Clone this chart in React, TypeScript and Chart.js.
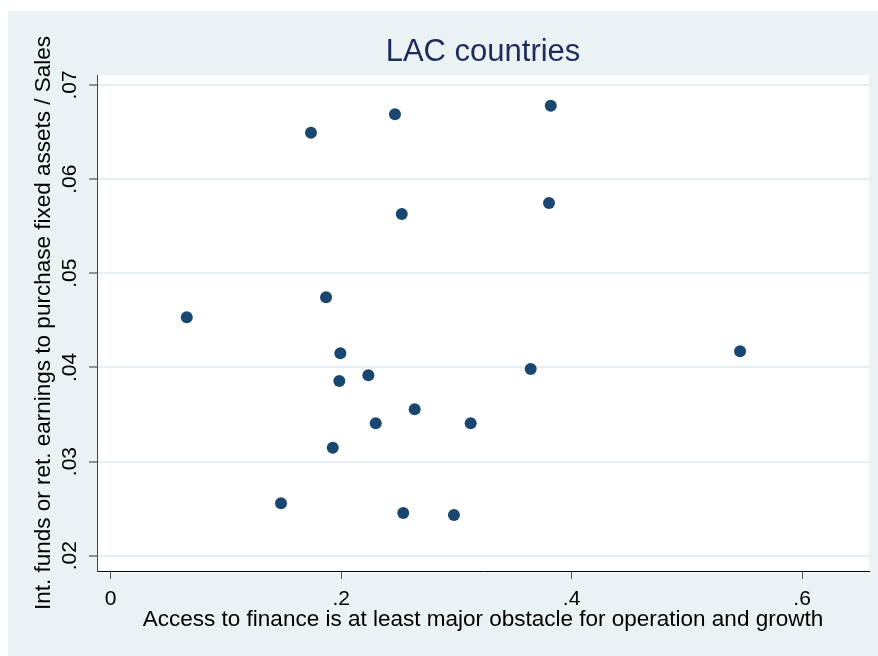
import React, { useEffect, useRef } from "react";
import { Chart, registerables } from "chart.js";

Chart.register(...registerables);

const CHART_TITLE = "LAC countries";
const X_TITLE = "Access to finance is at least major obstacle for operation and growth";
const Y_TITLE = "Int. funds or ret. earnings to purchase fixed assets / Sales";

// x: share of firms reporting access to finance as at least a major obstacle
const accessToFinance = [
  0.1738, 0.2467, 0.3819, 0.2526, 0.3804, 0.1869, 0.066, 0.1993, 0.5462, 0.1984,
  0.2236, 0.3645, 0.2638, 0.23, 0.3124, 0.1927, 0.1478, 0.2539, 0.2979,
];
// y: internal funds / retained earnings used to purchase fixed assets over sales
const internalFundsShare = [
  0.06493, 0.06689, 0.0678, 0.0563, 0.05747, 0.04745, 0.04532, 0.0415, 0.04171, 0.03856,
  0.03916, 0.03983, 0.03555, 0.03406, 0.03406, 0.03147, 0.02557, 0.02454, 0.02432,
];

const xTickValues = [0, 0.2, 0.4, 0.6];
const xTickLabels = ["0", ".2", ".4", ".6"];
const yTickValues = [0.02, 0.03, 0.04, 0.05, 0.06, 0.07];
const yTickLabels = [".02", ".03", ".04", ".05", ".06", ".07"];
const xRange = [-0.0119, 0.6581];
const yRange = [0.018375, 0.07106];

const OUTER_BG = "#EAF2F3";
const MARKER = "#1A476F";
const TITLE_COLOR = "#1E2C5C";
const FONT = "'Liberation Sans', Arial, Helvetica, sans-serif";

const backgroundPlugin = {
  id: "stataBackground",
  beforeDraw(chart: any) {
    const { ctx, chartArea, width, height } = chart;
    ctx.save();
    ctx.fillStyle = OUTER_BG;
    ctx.fillRect(0, 0, width, height);
    ctx.fillStyle = "#FFFFFF";
    ctx.fillRect(chartArea.left, chartArea.top, chartArea.right - chartArea.left, chartArea.bottom - chartArea.top + 2);
    ctx.restore();
  },
  afterDraw(chart: any) {
    const { ctx, chartArea } = chart;
    ctx.save();
    ctx.font = `31px ${FONT}`;
    ctx.fillStyle = TITLE_COLOR;
    ctx.textAlign = "center";
    ctx.textBaseline = "alphabetic";
    ctx.fillText(CHART_TITLE, (chartArea.left + chartArea.right) / 2, 50);
    ctx.restore();
  },
};

export default function App() {
  const canvasRef = useRef<HTMLCanvasElement | null>(null);

  useEffect(() => {
    const canvas = canvasRef.current;
    if (!canvas) return;
    const points = accessToFinance.map((x, i) => ({ x, y: internalFundsShare[i] }));
    const chart = new Chart(canvas, {
      type: "scatter",
      data: {
        datasets: [
          {
            data: points,
            backgroundColor: MARKER,
            borderColor: MARKER,
            borderWidth: 0,
            pointRadius: 6,
            pointHoverRadius: 6,
          },
        ],
      },
      plugins: [backgroundPlugin],
      options: {
        responsive: false,
        animation: false,
        devicePixelRatio: 1,
        events: [],
        layout: { padding: { top: 64, right: 9, bottom: 0, left: 0 } },
        plugins: {
          legend: { display: false },
          tooltip: { enabled: false },
          title: { display: false },
        },
        scales: {
          x: {
            type: "linear",
            min: xRange[0],
            max: xRange[1],
            afterBuildTicks: (scale: any) => {
              scale.ticks = xTickValues.map((v) => ({ value: v }));
            },
            afterFit: (scale: any) => {
              scale.height = 85;
            },
            border: { display: true, color: "#000000", width: 1 },
            grid: {
              drawOnChartArea: false,
              drawTicks: true,
              tickLength: 8,
              tickColor: "#555555",
              tickWidth: 1,
            },
            ticks: {
              autoSkip: false,
              maxRotation: 0,
              minRotation: 0,
              padding: 8,
              color: "#000000",
              font: { size: 21, family: FONT },
              callback: (_v: any, i: number) => xTickLabels[i],
            },
            title: {
              display: true,
              text: X_TITLE,
              color: "#000000",
              font: { size: 22.5, family: FONT },
              padding: { top: 0, bottom: 23 },
            },
          },
          y: {
            type: "linear",
            min: yRange[0],
            max: yRange[1],
            afterBuildTicks: (scale: any) => {
              scale.ticks = yTickValues.map((v) => ({ value: v }));
            },
            afterFit: (scale: any) => {
              scale.width = 89;
            },
            border: { display: true, color: "#444444", width: 1 },
            grid: {
              color: "#E8EFF2",
              lineWidth: 2,
              drawTicks: true,
              tickLength: 8,
              tickColor: "#333333",
              tickWidth: 1,
            },
            ticks: {
              autoSkip: false,
              minRotation: 90,
              maxRotation: 90,
              crossAlign: "center",
              padding: 4,
              color: "#000000",
              font: { size: 21, family: FONT },
              callback: (_v: any, i: number) => yTickLabels[i],
            },
            title: {
              display: true,
              text: Y_TITLE,
              color: "#000000",
              font: { size: 22.5, family: FONT },
              padding: { top: 22.5, bottom: 0 },
            },
          },
        },
      },
    });
    return () => chart.destroy();
  }, []);

  return (
    <div style={{ position: "absolute", left: 8, top: 11, width: 870, height: 645 }}>
      <canvas ref={canvasRef} width={870} height={645} style={{ display: "block", width: 870, height: 645 }} />
    </div>
  );
}
